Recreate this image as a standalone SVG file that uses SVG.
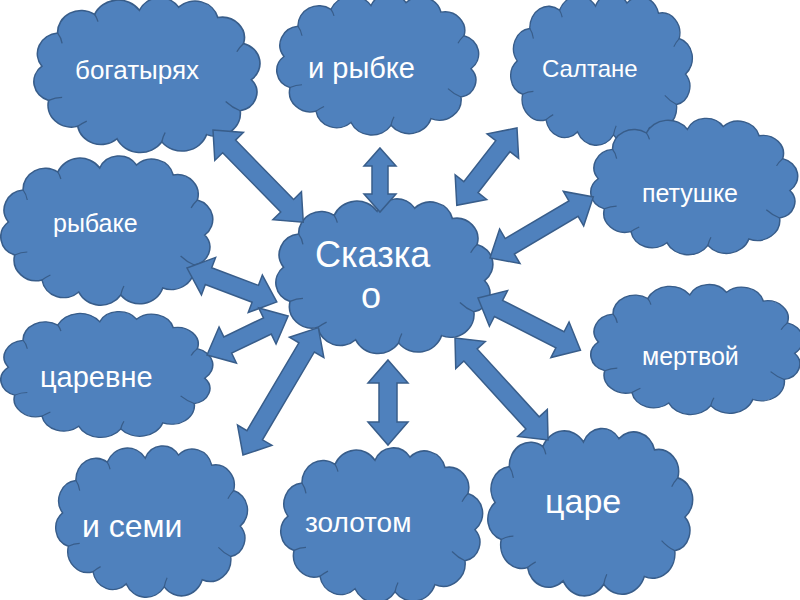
<svg xmlns="http://www.w3.org/2000/svg" width="800" height="600" viewBox="0 0 800 600">
<defs>
<style>
.cloud{fill:#4F81BD;stroke:#385D8A;stroke-width:1.5;vector-effect:non-scaling-stroke}
.crease{fill:none;stroke:#385D8A;stroke-width:1.2;vector-effect:non-scaling-stroke}
.arrow{fill:#4F81BD;stroke:#385D8A;stroke-width:1.5;stroke-linejoin:miter}
.t{fill:#FFFFFF;font-family:"Liberation Sans",Arial,sans-serif}
</style>
<path id="cl" d="M8,62 A20,20 0 0 1 22,30 A21,21 0 0 1 55,12 A23,23 0 0 1 95,8 A20,20 0 0 1 130,5 A21,21 0 0 1 165,15 A20,20 0 0 1 188,40 A20,20 0 0 1 195,75 A18,18 0 0 1 185,105 A22,22 0 0 1 155,128 A23,23 0 0 1 115,135 A23,23 0 0 1 75,132 A21,21 0 0 1 40,120 A21,21 0 0 1 14,95 A19,19 0 0 1 8,62 Z"/>
<path id="cr" d="M22,30 Q25,34 26,40 M55,12 Q57,15 58,19 M188,40 Q184,44 182,48 M185,105 Q178,102 172,96 M115,135 Q116,130 118,126 M40,120 Q44,117 48,115 M14,95 Q20,92 26,92"/>
</defs>

<g id="n-bogatyryah" transform="translate(33,2) scale(1.12,1.036)"><use href="#cl" class="cloud"/><use href="#cr" class="crease"/></g>
<g id="n-rybke" transform="translate(276,-2) scale(1,0.943)"><use href="#cl" class="cloud"/><use href="#cr" class="crease"/></g>
<g id="n-saltane" transform="translate(510,-2) scale(0.9,1.014)"><use href="#cl" class="cloud"/><use href="#cr" class="crease"/></g>
<g id="n-petushke" transform="translate(590,122) scale(1.025,0.914)"><use href="#cl" class="cloud"/><use href="#cr" class="crease"/></g>
<g id="n-rybake" transform="translate(0,160) scale(1.05,1)"><use href="#cl" class="cloud"/><use href="#cr" class="crease"/></g>
<g id="n-skazka" transform="translate(275,203) scale(1.075,1.036)"><use href="#cl" class="cloud"/><use href="#cr" class="crease"/></g>
<g id="n-mertvoy" transform="translate(590,288) scale(1.05,0.871)"><use href="#cl" class="cloud"/><use href="#cr" class="crease"/></g>
<g id="n-tsarevne" transform="translate(0,315) scale(1.05,0.843)"><use href="#cl" class="cloud"/><use href="#cr" class="crease"/></g>
<g id="n-semi" transform="translate(55,450) scale(0.95,1.014)"><use href="#cl" class="cloud"/><use href="#cr" class="crease"/></g>
<g id="n-zolotom" transform="translate(280,452) scale(1,1.036)"><use href="#cl" class="cloud"/><use href="#cr" class="crease"/></g>
<g id="n-tsare" transform="translate(487,433) scale(1.015,1.121)"><use href="#cl" class="cloud"/><use href="#cr" class="crease"/></g>

<g id="connectors">
<path class="arrow" transform="translate(213,130) rotate(45.6)" d="M0,0 L23,-20 L23,-9 L106,-9 L106,-20 L129,0 L106,20 L106,9 L23,9 L23,20 Z"/>
<path class="arrow" transform="translate(380,148) rotate(90)" d="M0,0 L18,-16 L18,-8 L46,-8 L46,-16 L64,0 L46,16 L46,8 L18,8 L18,16 Z"/>
<path class="arrow" transform="translate(517,128) rotate(127.9)" d="M0,0 L23,-20 L23,-9 L75,-9 L75,-20 L98,0 L75,20 L75,9 L23,9 L23,20 Z"/>
<path class="arrow" transform="translate(490,258) rotate(-30.6)" d="M0,0 L23,-20 L23,-9 L97,-9 L97,-20 L120,0 L97,20 L97,9 L23,9 L23,20 Z"/>
<path class="arrow" transform="translate(187,268) rotate(20.7)" d="M0,0 L23,-20 L23,-9 L73,-9 L73,-20 L96,0 L73,20 L73,9 L23,9 L23,20 Z"/>
<path class="arrow" transform="translate(207,355) rotate(-25.7)" d="M0,0 L23,-20 L23,-9 L67,-9 L67,-20 L90,0 L67,20 L67,9 L23,9 L23,20 Z"/>
<path class="arrow" transform="translate(478,298) rotate(27)" d="M0,0 L23,-20 L23,-9 L92,-9 L92,-20 L115,0 L92,20 L92,9 L23,9 L23,20 Z"/>
<path class="arrow" transform="translate(243,455) rotate(-59.4)" d="M0,0 L23,-20 L23,-9 L125,-9 L125,-20 L148,0 L125,20 L125,9 L23,9 L23,20 Z"/>
<path class="arrow" transform="translate(388,360) rotate(90)" d="M0,0 L23,-20 L23,-9 L62,-9 L62,-20 L85,0 L62,20 L62,9 L23,9 L23,20 Z"/>
<path class="arrow" transform="translate(455,338) rotate(47.6)" d="M0,0 L23,-20 L23,-9 L115,-9 L115,-20 L138,0 L115,20 L115,9 L23,9 L23,20 Z"/>
</g>

<g id="labels">
<text class="t" x="75" y="79" font-size="26">богатырях</text>
<text class="t" x="308" y="78" font-size="29">и рыбке</text>
<text class="t" x="542" y="77" font-size="24">Салтане</text>
<text class="t" x="642" y="202" font-size="25">петушке</text>
<text class="t" x="53" y="232" font-size="25">рыбаке</text>
<text class="t" x="315" y="267" font-size="36">Сказка</text>
<text class="t" x="371" y="308" font-size="36" text-anchor="middle">о</text>
<text class="t" x="40" y="387" font-size="29">царевне</text>
<text class="t" x="642" y="365" font-size="25">мертвой</text>
<text class="t" x="82" y="537" font-size="32">и семи</text>
<text class="t" x="305" y="532" font-size="28">золотом</text>
<text class="t" x="545" y="513" font-size="34">царе</text>
</g>
</svg>
